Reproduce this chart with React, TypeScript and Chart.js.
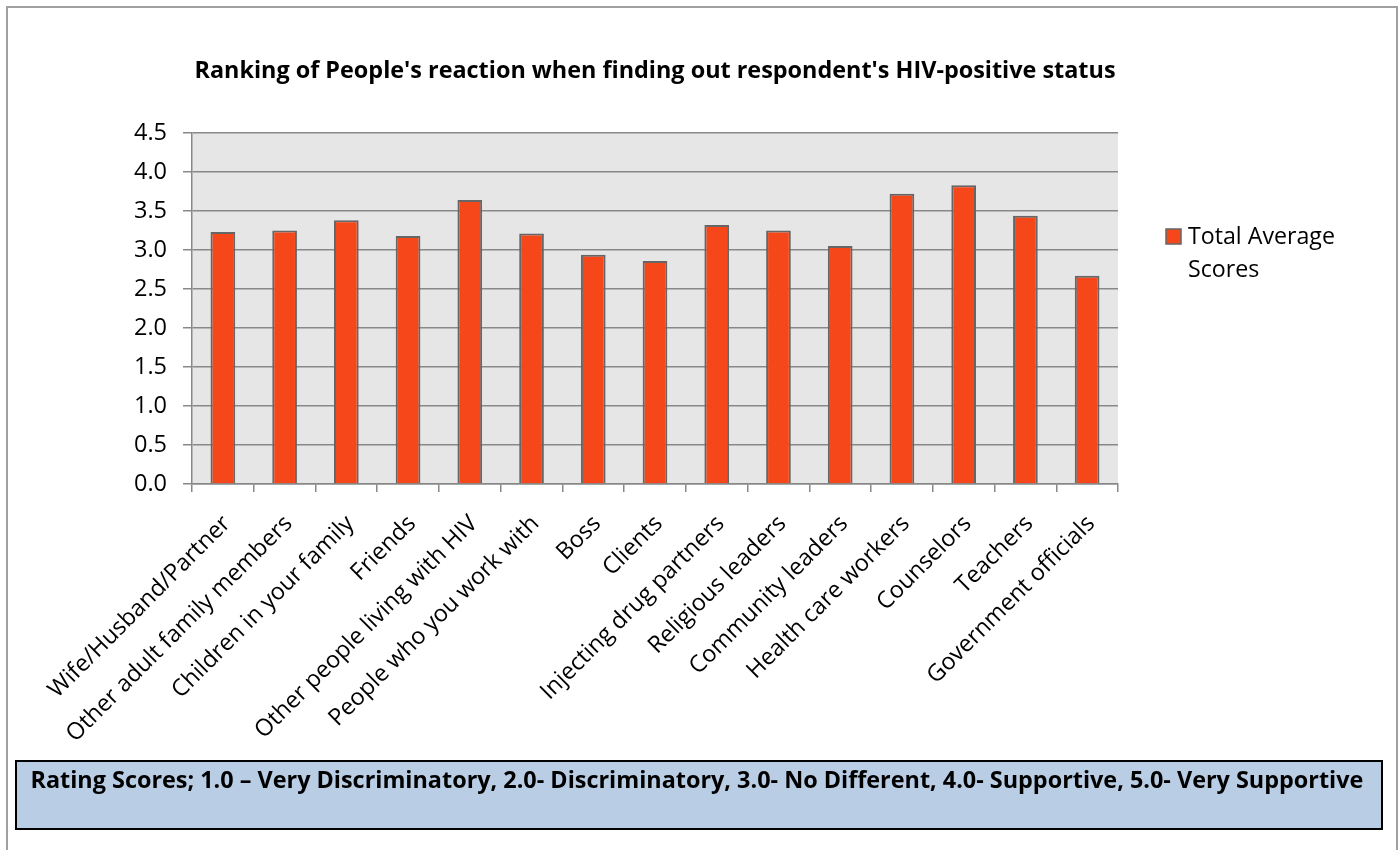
import React, { useEffect, useRef } from "react";
import { Chart, registerables } from "chart.js";

Chart.register(...registerables);

const titleText = "Ranking of People's reaction when finding out respondent's HIV-positive status";
const noteText =
  "Rating Scores; 1.0 \u2013 Very Discriminatory, 2.0- Discriminatory, 3.0- No Different, 4.0- Supportive, 5.0- Very Supportive";

const categories = [
  "Wife/Husband/Partner",
  "Other adult family members",
  "Children in your family",
  "Friends",
  "Other people living with HIV",
  "People who you work with",
  "Boss",
  "Clients",
  "Injecting drug partners",
  "Religious leaders",
  "Community leaders",
  "Health care workers",
  "Counselors",
  "Teachers",
  "Government officials",
];

const seriesLabel = "Total Average Scores";
const averageScores = [3.23, 3.25, 3.38, 3.18, 3.64, 3.21, 2.94, 2.86, 3.32, 3.25, 3.05, 3.72, 3.83, 3.44, 2.67];

const yMin = 0;
const yMax = 4.5;
const yStep = 0.5;

const FONT = "'Open Sans'";
const W = 1398;
const H = 850;

function fitSize(text: string, weight: string, target: number): number {
  const c = document.createElement("canvas");
  const ctx = c.getContext("2d")!;
  ctx.font = `${weight} 100px ${FONT}`;
  const w = ctx.measureText(text).width;
  return Math.round((100 * target) / w * 10) / 10;
}

export default function App() {
  const ref = useRef<HTMLCanvasElement | null>(null);

  useEffect(() => {
    let chart: Chart | null = null;
    let cancelled = false;

    const create = () => {
      if (cancelled || !ref.current) return;

      const titleSize = fitSize(titleText, "bold", 920);
      const noteSize = fitSize(noteText, "bold", 1335);
      const legendSize = fitSize("Total Average", "normal", 147);
      const yTickSize = fitSize("4.5", "normal", 33);
      const xTickSize = fitSize("Other adult family members", "normal", 308);

      const framePlugin = {
        id: "frame",
        beforeDraw(c: any) {
          const { ctx, chartArea } = c;
          ctx.save();
          ctx.fillStyle = "#ffffff";
          ctx.fillRect(0, 0, W, H);
          ctx.strokeStyle = "#a0a0a0";
          ctx.lineWidth = 2;
          ctx.strokeRect(7, 7, 1390, 900);
          ctx.fillStyle = "#e6e6e6";
          ctx.fillRect(chartArea.left, chartArea.top, chartArea.right - chartArea.left, chartArea.bottom - chartArea.top);
          ctx.restore();
        },
      };

      const decorPlugin = {
        id: "decor",
        afterDraw(c: any) {
          const { ctx, chartArea } = c;
          ctx.save();
          // title
          ctx.font = `bold ${titleSize}px ${FONT}`;
          ctx.fillStyle = "#000";
          ctx.textAlign = "center";
          ctx.textBaseline = "alphabetic";
          ctx.fillText(titleText, (chartArea.left + chartArea.right) / 2, 78);

          // legend
          const ds = c.data.datasets[0];
          ctx.font = `${legendSize}px ${FONT}`;
          const words = String(ds.label).split(" ");
          const lines: string[] = [];
          let cur = "";
          for (const w of words) {
            const test = cur ? cur + " " + w : w;
            if (ctx.measureText(test).width > 175 && cur) {
              lines.push(cur);
              cur = w;
            } else cur = test;
          }
          if (cur) lines.push(cur);
          ctx.fillStyle = ds.backgroundColor;
          ctx.fillRect(1166, 229, 15, 15);
          ctx.strokeStyle = ds.borderColor;
          ctx.lineWidth = 1.5;
          ctx.strokeRect(1166, 229, 15, 15);
          ctx.fillStyle = "#000";
          ctx.textAlign = "left";
          lines.forEach((l, i) => ctx.fillText(l, 1188, 244 + i * 33));

          // note box
          ctx.fillStyle = "#b9cde5";
          ctx.fillRect(16, 761, 1366, 68);
          ctx.strokeStyle = "#000";
          ctx.lineWidth = 2;
          ctx.strokeRect(16, 761, 1366, 68);
          ctx.fillStyle = "#000";
          ctx.font = `bold ${noteSize}px ${FONT}`;
          ctx.textAlign = "left";
          ctx.fillText(noteText, 30.5, 788);
          ctx.restore();
        },
      };

      chart = new Chart(ref.current, {
        type: "bar",
        data: {
          labels: categories,
          datasets: [
            {
              label: seriesLabel,
              data: averageScores,
              backgroundColor: "#F54719",
              borderColor: "#666666",
              borderWidth: 2,
              borderSkipped: "bottom",
              categoryPercentage: 1,
              barPercentage: 0.4,
            },
          ],
        },
        options: {
          animation: false,
          responsive: false,
          devicePixelRatio: 1,
          layout: { padding: { left: 0, right: W - 1118, top: 133, bottom: 0 } },
          plugins: {
            legend: { display: false },
            title: { display: false },
            tooltip: { enabled: false },
          },
          scales: {
            x: {
              offset: true,
              grid: {
                offset: true,
                drawOnChartArea: false,
                drawTicks: true,
                tickLength: 8,
                color: "#888888",
                lineWidth: 1.5,
              },
              border: { color: "#888888", width: 1.5 },
              ticks: {
                autoSkip: false,
                maxRotation: 45,
                minRotation: 45,
                padding: 18,
                labelOffset: 4,
                color: "#000",
                font: { family: FONT, size: xTickSize },
              },
              afterFit(scale: any) {
                scale.height = H - 484;
              },
            },
            y: {
              min: yMin,
              max: yMax,
              grid: {
                color: "#888888",
                lineWidth: 1.5,
                tickLength: 9,
                drawTicks: true,
              },
              border: { color: "#888888", width: 1.5 },
              ticks: {
                stepSize: yStep,
                padding: 16,
                color: "#000",
                font: { family: FONT, size: yTickSize },
                callback: (v: any) => Number(v).toFixed(1),
              },
              afterFit(scale: any) {
                scale.width = 192;
              },
            },
          },
        },
        plugins: [framePlugin, decorPlugin],
      });
    };

    const fonts: any = (document as any).fonts;
    if (fonts && fonts.load) {
      Promise.all([fonts.load(`22px ${FONT}`), fonts.load(`bold 22px ${FONT}`)]).then(create, create);
    } else create();

    return () => {
      cancelled = true;
      if (chart) chart.destroy();
    };
  }, []);

  return (
    <div
      style={{
        position: "absolute",
        left: 0,
        top: 0,
        width: W,
        height: H,
        overflow: "hidden",
        background: "#fff",
      }}
    >
      <canvas
        ref={ref}
        width={W}
        height={H}
        style={{ position: "absolute", left: 0, top: 0, width: W, height: H }}
      />
    </div>
  );
}
